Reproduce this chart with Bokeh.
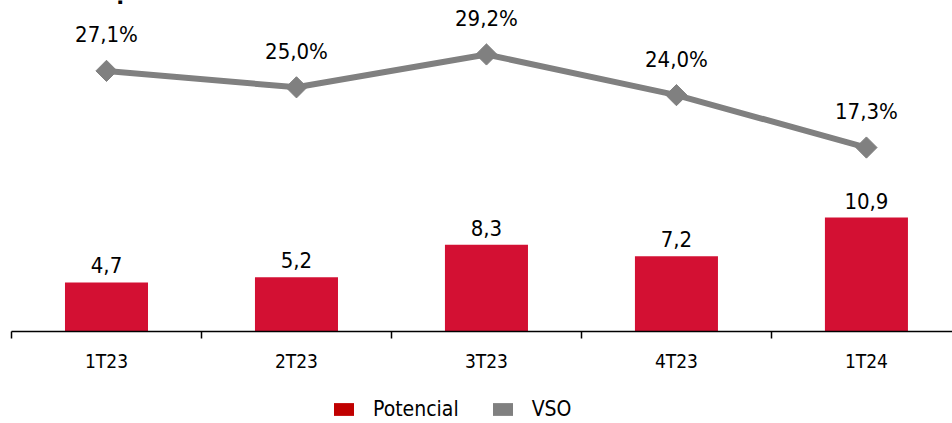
from bokeh.plotting import figure
from bokeh.layouts import column
from bokeh.models import (Range1d, FixedTicker, ColumnDataSource,
                          Legend, LegendItem, Label)
from bokeh.core.properties import value
from bokeh.embed import file_html
from bokeh.resources import INLINE

# Quarterly data
categories = ["1T23", "2T23", "3T23", "4T23", "1T24"]
potencial = [4.7, 5.2, 8.3, 7.2, 10.9]
vso = [27.1, 25.0, 29.2, 24.0, 17.3]
potencial_labels = ["4,7", "5,2", "8,3", "7,2", "10,9"]
vso_labels = ["27,1%", "25,0%", "29,2%", "24,0%", "17,3%"]

FONT = "DejaVu Sans Condensed"
BAR_COLOR = "#D31033"
LEGEND_RED = "#C00000"
GREY = "#808080"

xs = [i + 0.5 for i in range(len(categories))]
src = ColumnDataSource(dict(x=xs, pot=potencial, vso=vso,
                            pot_lbl=potencial_labels, vso_lbl=vso_labels))

p = figure(width=952, height=380, output_backend="svg", toolbar_location=None,
           x_range=Range1d(0, 4.953), y_range=Range1d(0, 31.67),
           y_axis_location=None, min_border_left=11, min_border_right=0,
           min_border_top=0, min_border_bottom=49)
p.outline_line_color = None
p.grid.visible = False
p.background_fill_color = "white"
p.border_fill_color = "white"

# secondary scale for the VSO line
p.extra_y_ranges = {"vso": Range1d(-6.22, 36.1)}

p.vbar(x="x", top="pot", width=0.437, source=src,
       fill_color=BAR_COLOR, line_color=None)
p.text(x="x", y="pot", text="pot_lbl", source=src, text_align="center",
       text_baseline="alphabetic", y_offset=-17, text_font=value(FONT),
       text_font_size="22px", text_color="black")

p.line(x="x", y="vso", source=src, y_range_name="vso",
       line_color=GREY, line_width=6)
p.scatter(x="x", y="vso", source=src, y_range_name="vso", marker="square",
          angle=0.7854, size=15, fill_color=GREY, line_color=GREY)
p.text(x="x", y="vso", text="vso_lbl", source=src, y_range_name="vso",
       text_align="center", text_baseline="alphabetic", y_offset=-36,
       text_font=value(FONT), text_font_size="22px", text_color="black")

# x axis: labels at centers, tick marks at category boundaries
ax = p.xaxis[0]
ax.ticker = FixedTicker(ticks=xs, minor_ticks=[0, 1, 2, 3, 4, 5])
ax.major_label_overrides = {x: c for x, c in zip(xs, categories)}
ax.major_tick_out = 0
ax.major_tick_in = 0
ax.minor_tick_out = 7
ax.minor_tick_in = 0
ax.minor_tick_line_color = "black"
ax.minor_tick_line_width = 1.5
ax.axis_line_color = "black"
ax.axis_line_width = 1.5
ax.major_label_text_font = FONT
ax.major_label_text_font_size = "19px"
ax.major_label_text_color = "black"
ax.major_label_standoff = 11

# heading descender peeking in at the top edge
p.add_layout(Label(x=105, y=341, x_units="screen", y_units="screen", text="p",
                   text_font=FONT, text_font_style="bold", text_font_size="24px",
                   text_baseline="alphabetic", text_color="black"))

# legend strip below the chart
lg = figure(width=952, height=43, output_backend="svg", toolbar_location=None,
            x_range=Range1d(0, 1), y_range=Range1d(0, 1),
            x_axis_location=None, y_axis_location=None,
            min_border_left=0, min_border_right=0,
            min_border_top=0, min_border_bottom=0)
lg.outline_line_color = None
lg.grid.visible = False
lg.border_fill_color = "white"
sw_pot = lg.vbar(x=[5], top=[1], width=0.1, fill_color=LEGEND_RED, line_color=None)
sw_vso = lg.vbar(x=[5], top=[1], width=0.1, fill_color=GREY, line_color=None)
legend = Legend(items=[LegendItem(label="Potencial", renderers=[sw_pot]),
                       LegendItem(label="VSO", renderers=[sw_vso])],
                orientation="horizontal", location=(320, 2),
                glyph_width=25, glyph_height=16, label_standoff=17,
                spacing=31, padding=0, margin=0, border_line_color=None,
                background_fill_alpha=0, label_text_font=FONT,
                label_text_font_size="21px", label_text_color="black",
                label_height=20)
lg.add_layout(legend, "center")

layout = column(p, lg, spacing=0)
open("out.html", "w").write(file_html(layout, INLINE))
